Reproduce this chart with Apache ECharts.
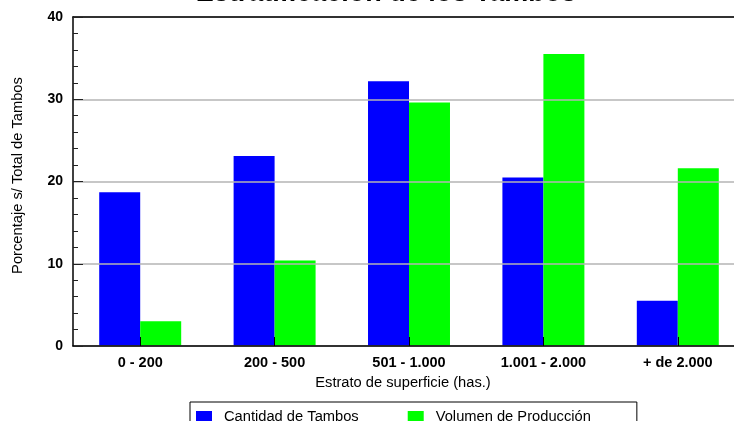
<!DOCTYPE html>
<html>
<head>
<meta charset="utf-8">
<script src="https://cdn.jsdelivr.net/npm/echarts@6/dist/echarts.min.js"></script>
<style>
  html, body { margin: 0; padding: 0; background: #fff; }
  #main { width: 734px; height: 421px; }
</style>
</head>
<body>
<div id="main"></div>
<script>
var estratos = ['0 - 200', '200 - 500', '501 - 1.000', '1.001 - 2.000', '+ de 2.000'];
var cantidadTambos = [18.7, 23.1, 32.2, 20.5, 5.5];
var volumenProduccion = [3.0, 10.4, 29.6, 35.5, 21.6];
var yTicks = [0, 10, 20, 30, 40];

var fuente = '"Liberation Sans", Arial, sans-serif';
var chart = echarts.init(document.getElementById('main'), null, { renderer: 'canvas' });

var option = {
  backgroundColor: '#ffffff',
  color: ['#0000ff', '#00ff00'],
  animation: false,
  title: {
    text: 'Estratificación de los Tambos',
    left: 381,
    top: -25,
    textAlign: 'center',
    textStyle: {
      fontFamily: fuente,
      fontSize: 27,
      fontWeight: 'bold',
      color: '#000'
    }
  },
  legend: {
    data: ['Cantidad de Tambos', 'Volumen de Producción'],
    left: 190,
    top: 402,
    orient: 'horizontal',
    padding: [7, 46, 20, 6],
    itemWidth: 16,
    itemHeight: 11,
    itemGap: 49,
    borderColor: '#000',
    borderWidth: 1,
    icon: 'rect',
    textStyle: {
      fontFamily: fuente,
      fontSize: 14.7,
      color: '#000',
      padding: [0, 0, 0, 7]
    }
  },
  grid: {
    left: 73,
    top: 17,
    width: 672,
    height: 329,
    outerBoundsMode: 'none'
  },
  xAxis: [
    {
      type: 'category',
      data: estratos,
      z: 5,
      name: 'Estrato de superficie (has.)',
      nameLocation: 'middle',
      nameGap: 29,
      nameTextStyle: {
        fontFamily: fuente,
        fontSize: 14.7,
        color: '#000',
        padding: [0, 12, 0, 0]
      },
      axisLine: { lineStyle: { color: '#000', width: 1.5 } },
      axisTick: {
        show: true,
        inside: true,
        alignWithLabel: true,
        length: 9,
        lineStyle: { color: '#000' }
      },
      axisLabel: {
        margin: 9,
        fontFamily: fuente,
        fontSize: 14.5,
        fontWeight: 'bold',
        color: '#000'
      }
    },
    {
      type: 'category',
      data: estratos,
      position: 'top',
      z: 5,
      axisLine: { lineStyle: { color: '#000', width: 1.5 } },
      axisTick: { show: false },
      axisLabel: { show: false }
    }
  ],
  yAxis: {
    type: 'value',
    min: yTicks[0],
    max: yTicks[yTicks.length - 1],
    interval: 10,
    z: 5,
    name: 'Porcentaje s/ Total de Tambos',
    nameLocation: 'middle',
    nameGap: 48,
    nameTextStyle: {
      fontFamily: fuente,
      fontSize: 14.7,
      color: '#000',
      padding: [0, 0, 0, 12]
    },
    axisLine: { show: true, lineStyle: { color: '#000', width: 1.5 } },
    axisTick: {
      show: true,
      inside: true,
      length: 10,
      lineStyle: { color: '#222' }
    },
    minorTick: {
      show: true,
      splitNumber: 5,
      length: 5,
      lineStyle: { color: '#222' }
    },
    axisLabel: {
      margin: 10,
      fontFamily: fuente,
      fontSize: 14,
      fontWeight: 'bold',
      color: '#000'
    },
    splitLine: {
      show: true,
      lineStyle: { color: '#b4b4b4', width: 1.5 }
    }
  },
  series: [
    {
      name: 'Cantidad de Tambos',
      type: 'bar',
      data: cantidadTambos,
      barGap: '0%',
      barCategoryGap: '39%'
    },
    {
      name: 'Volumen de Producción',
      type: 'bar',
      data: volumenProduccion,
      barGap: '0%',
      barCategoryGap: '39%'
    }
  ]
};

chart.setOption(option);
</script>
</body>
</html>
